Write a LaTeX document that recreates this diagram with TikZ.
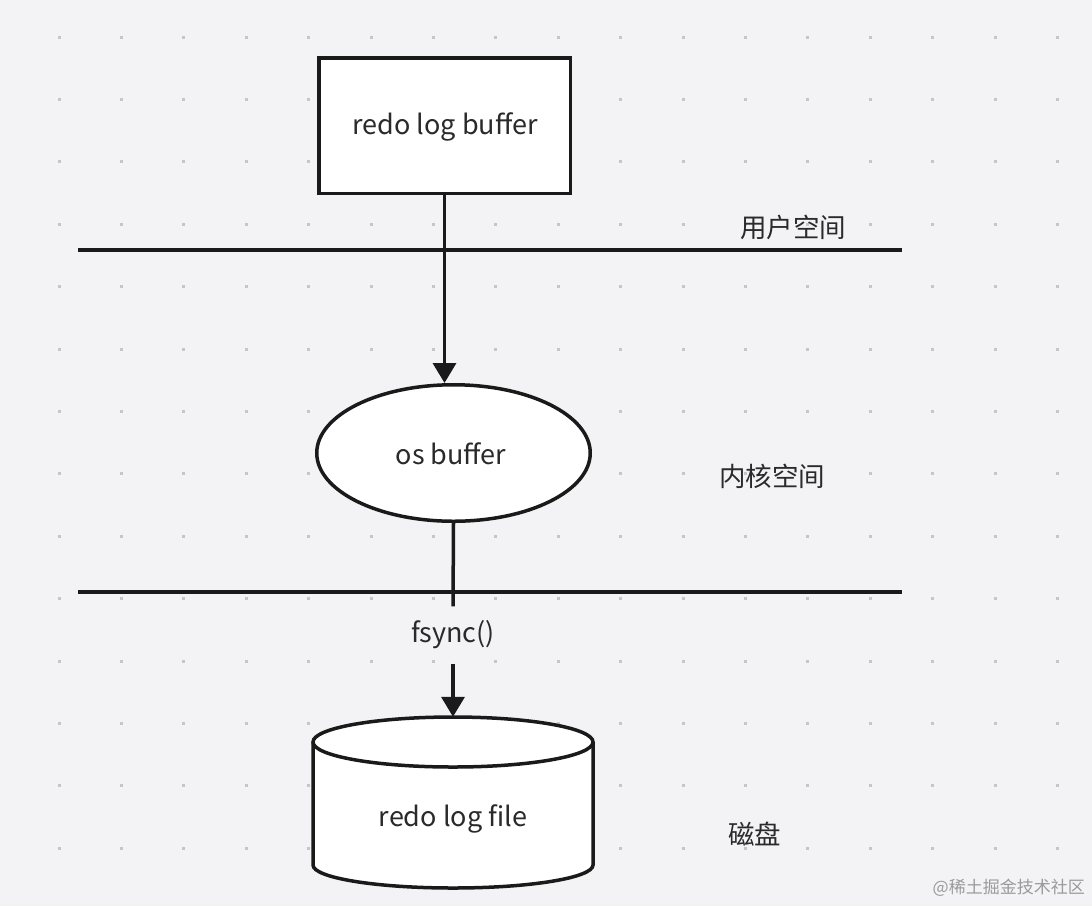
\documentclass[tikz,border=0pt]{standalone}
\usepackage{fontspec}
\setmainfont{Noto Sans CJK SC}
\usetikzlibrary{arrows.meta,shapes.geometric}
\definecolor{bgc}{HTML}{F3F3F5}
\definecolor{dotc}{HTML}{C6C6CA}
\definecolor{ink}{HTML}{1A1A1A}
\definecolor{txt}{HTML}{2A2A2A}
\definecolor{wm}{HTML}{9A9A9A}
\begin{document}
\begin{tikzpicture}[x=1pt,y=-1pt,
  shapeline/.style={draw=ink,line width=3.5pt,fill=white},
  arr/.style={draw=ink,line width=3.5pt,-{Triangle[length=20pt,width=23pt]}},
  conn/.style={draw=ink,line width=3.5pt},
  label/.style={text=txt,font=\fontsize{27}{31}\selectfont,inner sep=0pt},
  zone/.style={text=txt,font=\fontsize{26.5}{30}\selectfont,inner sep=0pt,anchor=west}]
\useasboundingbox (0,0) rectangle (1092,906);
\fill[bgc] (0,0) rectangle (1092,906);
% dot grid
\foreach \i in {0,...,16}{
  \foreach \j in {0,...,13}{
    \fill[dotc] ({59+62.4*\i-1.5},{37+62.4*\j-1.5}) rectangle ++(3,3);
  }
}
% separator lines
\coordinate (l1a) at (78,250);
\coordinate (l1b) at (902,250);
\coordinate (l2a) at (78,592);
\coordinate (l2b) at (902,592);
\draw[conn] (l1a) -- (l1b);
\draw[conn] (l2a) -- (l2b);
% redo log buffer
\node[shapeline,rectangle,minimum width=251.5pt,minimum height=135.5pt,inner sep=0pt] (rlb) at (444.5,125.5) {};
\node[label] (rlbt) at (445,127) {redo log buffer};
% os buffer
\node[shapeline,ellipse,minimum width=273.5pt,minimum height=136.5pt,inner sep=0pt] (osb) at (453.5,453) {};
\node[label] (osbt) at (451,454) {os buffer};
% cylinder
\node[inner sep=0pt,minimum width=280pt,minimum height=171pt] (cyl) at (453,802.5) {};
\fill[white] (313,742) -- (313,865) arc[start angle=180,end angle=360,x radius=140pt,y radius=23pt] -- (593,742) arc[start angle=0,end angle=180,x radius=140pt,y radius=25pt] -- cycle;
\draw[draw=ink,line width=3.5pt] (313,742) -- (313,865) arc[start angle=180,end angle=360,x radius=140pt,y radius=23pt] -- (593,742);
\draw[draw=ink,line width=3.5pt] (453,742) ellipse[x radius=140pt,y radius=25pt];
\node[label] (rlft) at (453,819) {redo log file};
% connectors
\draw[arr] (rlb.south) -- (rlb.south |- osb.north);
\node[label,minimum height=57pt] (fs) at (453,635) {fsync()};
\draw[conn] (osb.south) -- (fs.north);
\draw[arr] (fs.south) -- (cyl.north);
% zone labels
\node[zone] (z1) at (740,227) {用户空间};
\node[zone] (z2) at (719,476) {内核空间};
\node[zone] (z3) at (728,834) {磁盘};
% watermark
\node[text=wm,font=\fontsize{17}{20}\selectfont,inner sep=0pt,anchor=east] (wmk) at (1085,888) {@稀土掘金技术社区};
\end{tikzpicture}
\end{document}
